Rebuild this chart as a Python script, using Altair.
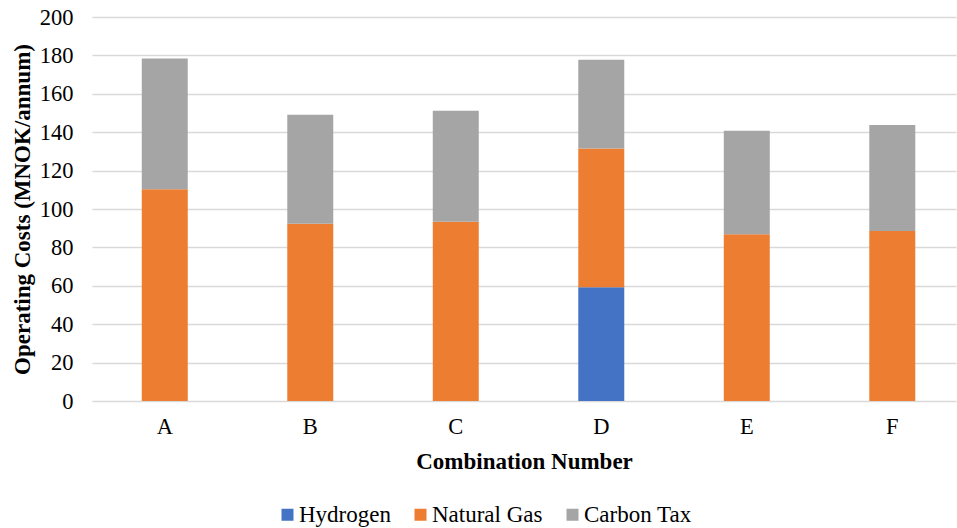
import altair as alt
import pandas as pd

# Operating cost components per combination (MNOK/annum)
combinations = ["A", "B", "C", "D", "E", "F"]
hydrogen = [0.0, 0.0, 0.0, 59.3, 0.0, 0.0]
natural_gas = [110.3, 92.3, 93.3, 72.2, 86.9, 88.6]
carbon_tax = [68.1, 56.8, 57.9, 46.2, 53.8, 55.1]

series_names = ["Hydrogen", "Natural Gas", "Carbon Tax"]
series_colors = ["#4472C4", "#ED7D31", "#A5A5A5"]
y_ticks = [0, 20, 40, 60, 80, 100, 120, 140, 160, 180, 200]

rows = []
for i, combo in enumerate(combinations):
    for k, (name, values) in enumerate(zip(series_names, [hydrogen, natural_gas, carbon_tax])):
        rows.append({"Combination": combo, "Component": name, "Cost": values[i], "order": k})
df = pd.DataFrame(rows)

FONT = "'Times New Roman', 'Liberation Serif', serif"

chart = (
    alt.Chart(df)
    .mark_bar()
    .encode(
        x=alt.X(
            "Combination:N",
            sort=combinations,
            title="Combination Number",
            scale=alt.Scale(paddingInner=0.684, paddingOuter=0.311, align=0.55),
            axis=alt.Axis(
                labelAngle=0,
                labelFont=FONT,
                labelFontSize=22.5,
                labelPadding=14,
                titleFont=FONT,
                titleFontSize=23,
                titleFontWeight="bold",
                titlePadding=13,
                ticks=False,
                domain=False,
                grid=False,
            ),
        ),
        y=alt.Y(
            "Cost:Q",
            stack="zero",
            title="Operating Costs (MNOK/annum)",
            scale=alt.Scale(domain=[0, 200], nice=False),
            axis=alt.Axis(
                values=y_ticks,
                labelFont=FONT,
                labelFontSize=22.5,
                labelPadding=19,
                titleFont=FONT,
                titleFontSize=23,
                titleFontWeight="bold",
                titlePadding=5,
                ticks=False,
                domain=False,
                gridColor="#D9D9D9",
                gridWidth=1.3,
            ),
        ),
        color=alt.Color(
            "Component:N",
            scale=alt.Scale(domain=series_names, range=series_colors),
            legend=alt.Legend(
                title=None,
                orient="none",
                direction="horizontal",
                legendX=184,
                legendY=486,
                symbolType="square",
                symbolSize=144,
                symbolStrokeWidth=0,
                labelFont=FONT,
                labelFontSize=23,
                labelOffset=0,
                columnPadding=18,
            ),
        ),
        order=alt.Order("order:Q"),
    )
    .properties(
        width=864,
        height=384,
        autosize=alt.AutoSizeParams(type="none"),
        padding={"left": 92, "top": 17, "right": 1, "bottom": 127},
    )
    .configure(font=FONT)
    .configure_axis(labelColor="#000000", titleColor="#000000")
    .configure_legend(labelColor="#000000")
    .configure_view(stroke=None)
)

chart.save("out.html", embed_options={"renderer": "svg", "actions": False})
